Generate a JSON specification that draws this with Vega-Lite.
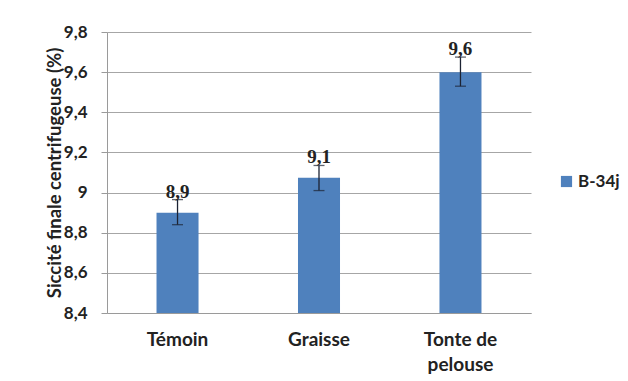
{
  "$schema": "https://vega.github.io/schema/vega-lite/v6.json",
  "width": 424,
  "height": 281,
  "autosize": {"type": "none"},
  "padding": {"left": 107, "top": 32, "right": 97, "bottom": 68},
  "background": "white",
  "config": {
    "locale": {"number": {"decimal": ",", "thousands": "\u00a0", "grouping": [3], "currency": ["", "\u00a0€"]}},
    "view": {"stroke": null},
    "font": "Lato"
  },
  "data": {
    "values": [
      {"traitement": "Témoin", "valeur": 8.9, "bas": 8.84, "haut": 8.965, "serie": "B-34j"},
      {"traitement": "Graisse", "valeur": 9.074, "bas": 9.01, "haut": 9.135, "serie": "B-34j"},
      {"traitement": "Tonte de pelouse", "valeur": 9.6, "bas": 9.53, "haut": 9.675, "serie": "B-34j"}
    ]
  },
  "encoding": {
    "x": {
      "field": "traitement",
      "type": "nominal",
      "sort": null,
      "scale": {"paddingInner": 0.703, "paddingOuter": 0.35},
      "axis": {
        "title": null,
        "labelAngle": 0,
        "ticks": false,
        "domainColor": "#9a9a9a",
        "labelFont": "Lato",
        "labelFontWeight": "bold",
        "labelFontSize": 19,
        "labelColor": "#222222",
        "labelPadding": 17,
        "labelLineHeight": 25,
        "labelExpr": "datum.label == 'Tonte de pelouse' ? ['Tonte de', 'pelouse'] : datum.label"
      }
    }
  },
  "layer": [
    {
      "mark": {"type": "bar"},
      "encoding": {
        "y": {
          "field": "valeur",
          "type": "quantitative",
          "scale": {"domain": [8.4, 9.8], "zero": false, "nice": false},
          "axis": {
            "title": "Siccité finale centrifugeuse (%)",
            "titleFont": "Lato",
            "titleFontWeight": "bold",
            "titleFontSize": 18.5,
            "titleColor": "#222222",
            "titlePadding": -1,
            "values": [8.4, 8.6, 8.8, 9.0, 9.2, 9.4, 9.6, 9.8],
            "format": ".1~f",
            "grid": true,
            "gridColor": "#a6a6a6",
            "domainColor": "#9a9a9a",
            "tickColor": "#9a9a9a",
            "tickSize": 6,
            "labelPadding": 14,
            "labelFont": "Lato",
            "labelFontWeight": "bold",
            "labelFontSize": 17,
            "labelColor": "#222222"
          }
        },
        "y2": {"datum": 8.4},
        "color": {
          "field": "serie",
          "type": "nominal",
          "scale": {"range": ["#4F81BD"]},
          "legend": {
            "title": null,
            "orient": "none",
            "legendX": 451,
            "legendY": 141,
            "symbolType": "square",
            "symbolSize": 125,
            "symbolStrokeWidth": 0,
            "labelFont": "Lato",
            "labelFontWeight": "bold",
            "labelFontSize": 17,
            "labelColor": "#222222",
            "labelOffset": 3
          }
        }
      }
    },
    {
      "mark": {"type": "rule", "color": "#1c2333", "strokeWidth": 1.3},
      "encoding": {
        "y": {"field": "bas", "type": "quantitative"},
        "y2": {"field": "haut"}
      }
    },
    {
      "mark": {"type": "tick", "color": "#1c2333", "size": 11, "thickness": 1.3, "orient": "horizontal"},
      "encoding": {"y": {"field": "bas", "type": "quantitative"}}
    },
    {
      "mark": {"type": "tick", "color": "#1c2333", "size": 11, "thickness": 1.3, "orient": "horizontal"},
      "encoding": {"y": {"field": "haut", "type": "quantitative"}}
    },
    {
      "mark": {"type": "text", "baseline": "alphabetic", "dy": -2, "font": "Liberation Serif", "fontWeight": "bold", "fontSize": 19, "color": "#222222"},
      "encoding": {
        "y": {"field": "haut", "type": "quantitative"},
        "text": {"field": "valeur", "type": "quantitative", "format": ".1f"}
      }
    }
  ]
}
